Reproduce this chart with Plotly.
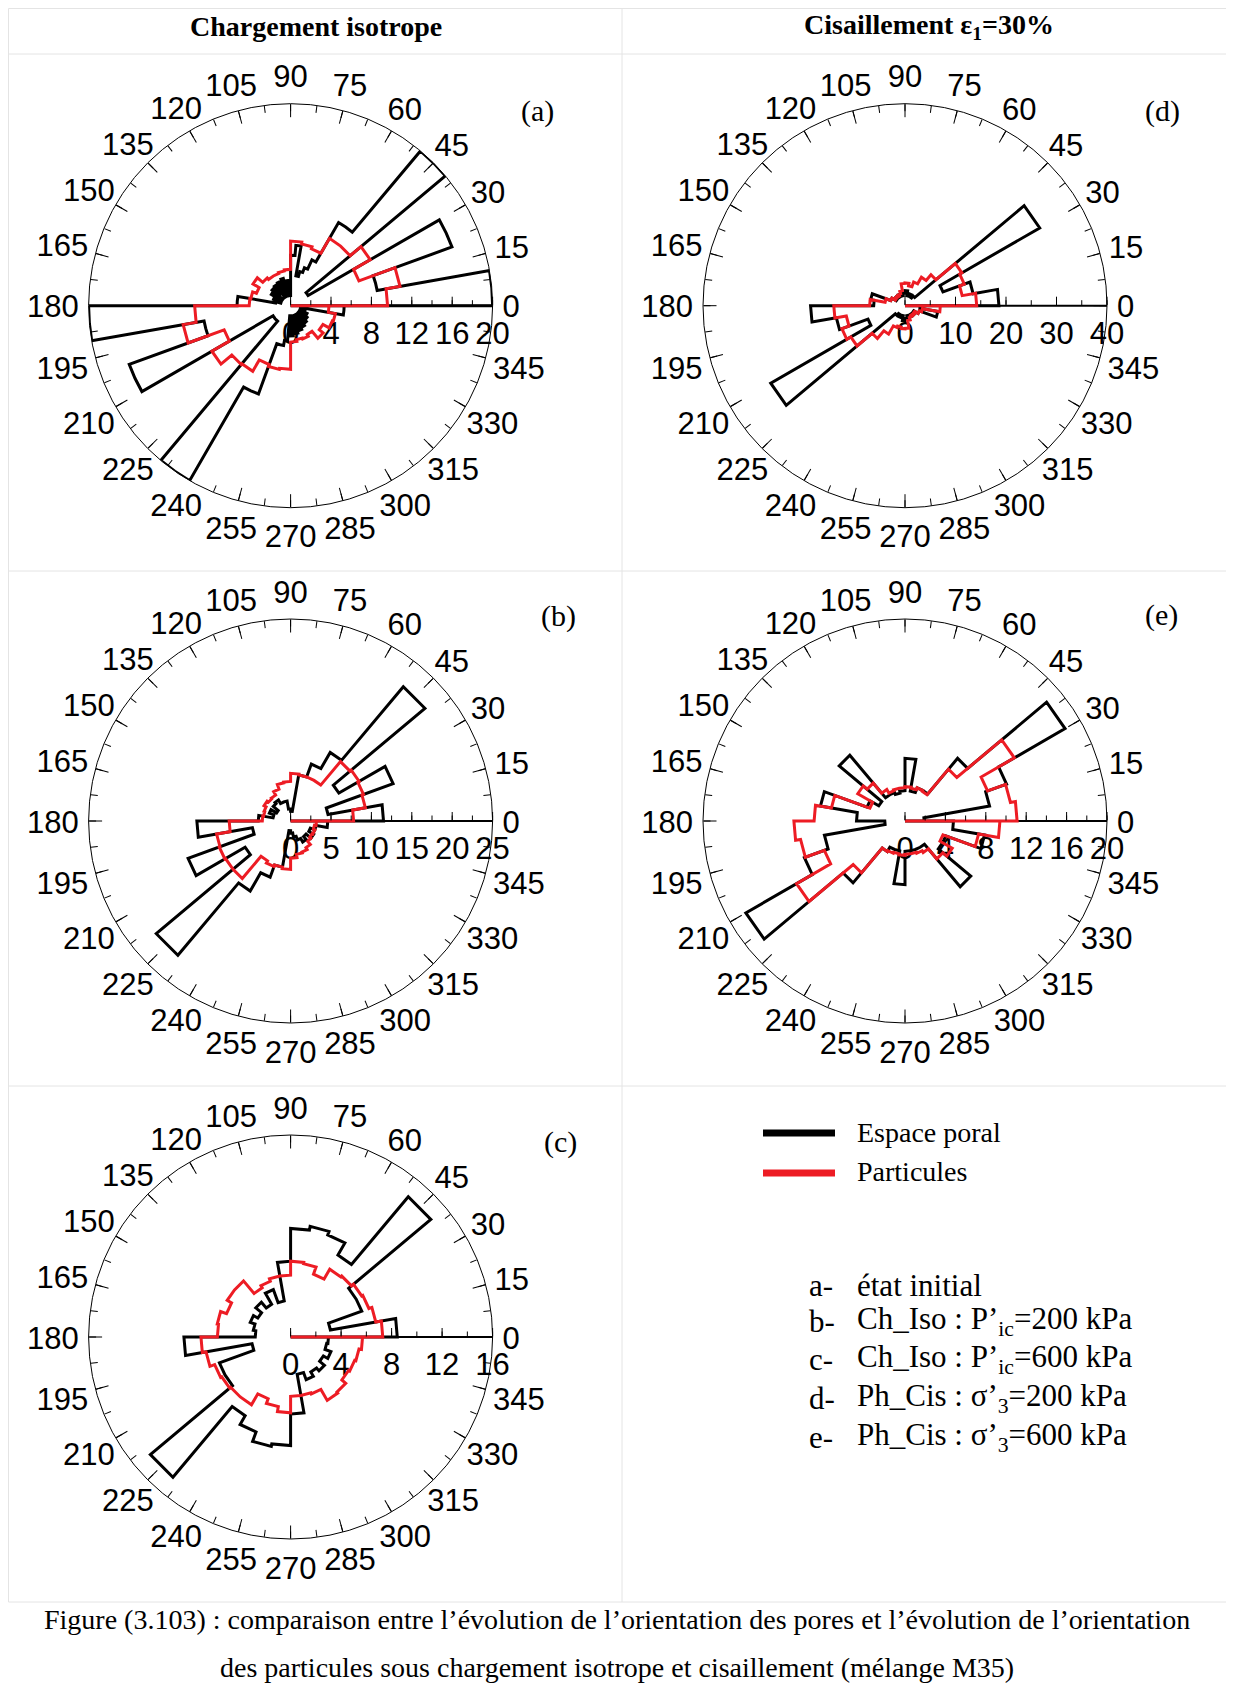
import math
import plotly.graph_objects as go

# page is offset by the browser's 8px body margin; work in page pixels and shift
PAGE_W, PAGE_H = 1234, 1689
OFF = 8
W, H = PAGE_W - OFF, PAGE_H - OFF
R_PX = 202      # radius of the rose circle
R_LAB = 262     # radius of the (invisible) polar frame that carries the angle labels

# ---- rose-diagram values (bins start at 0 deg, counter-clockwise) ----
# 5-degree bins
a_black = [20, 20, 8.7, 8.7, 17, 17, 2, 2, 20, 20, 9.5, 9.5, 5, 4, 3.5, 3, 6, 5,
           1, 2.5, 1, 2.8, 1.2, 2.6, 1, 2.5, 1.5, 2.4, 1, 2.2, 1.2, 1.8, 1, 1.5, 5.3, 5.3,
           20, 20, 8.7, 8.7, 17, 17, 2, 2, 2, 2, 20, 20, 9.3, 9.3, 4, 4, 3.5, 1,
           3, 1, 2.8, 1.2, 2.6, 1, 2.4, 1.2, 2.2, 1, 2, 1.2, 1.8, 1, 1.5, 1, 5.3, 5.3]
# 10-degree bins
a_red = [9.6, 11, 7.2, 9.1, 7.7, 7.7, 6, 6.2, 6.4, 3.6, 3.5, 3.4, 3.4, 3.6, 4.3, 3.6, 4, 4.1,
         9.5, 10.8, 7, 9, 7.6, 7.5, 6.2, 6.4, 6.3, 3.6, 3.4, 3.5, 3.3, 4.2, 3.7, 4.4, 4.5, 3.8]

b_black = [11.5, 4.7, 13.5, 6.9, 21.7, 9.8, 7.5, 5.8, 1.2, 1.5, 2.5, 2.5, 3, 2.8, 2, 2.8, 2.2, 4,
           11.6, 4.8, 13.5, 6.5, 21.7, 10, 7.4, 5.8, 1.2, 1.5, 2, 2.5, 3, 2.5, 3.3, 2.6, 3.2, 4.6]
b_red = [7.8, 9.4, 9.6, 9.8, 9.6, 5.8, 5.8, 5.8, 5.9, 4.9, 4.8, 4.2, 3.7, 3.6, 3.8, 3.5, 3.4, 3.5,
         7.6, 9.3, 9.4, 9.3, 9.3, 5.7, 6, 5.8, 6, 4.6, 4.2, 4.1, 3.8, 3.3, 3.1, 3.2, 3, 3.2]

c_black = [8.45, 3.2, 6, 6, 14.5, 7.5, 8.6, 8.9, 8.6, 6, 2.9, 4, 3, 3.6, 3, 3.4, 3, 2.8,
           8.45, 3.1, 6, 6, 14.5, 7.2, 8, 8.8, 8.6, 6.1, 3, 3.6, 3.2, 3.5, 3, 3.4, 2.9, 3]
c_red = [7.3, 6.85, 6.6, 6.5, 6.3, 6.2, 5.3, 5.9, 6, 4.9, 4.9, 4.7, 4.5, 5.8, 5.8, 5.4, 5.9, 5.8,
         7.1, 6.8, 6.4, 6.3, 6.2, 6.2, 5.2, 5.6, 6, 4.7, 4.7, 4.8, 5.8, 5.7, 5.3, 5.4, 5.5, 5.7]

d_black = [18.6, 13.7, 8, 30.8, 2.5, 2, 2.5, 2, 3, 2.5, 2, 2.5, 2, 2.5, 2, 3, 6.9, 6.2,
           18.7, 13.8, 7.8, 30.7, 2.5, 2, 2.5, 2, 3, 2.5, 2, 2.5, 2, 2.5, 2, 3, 6.6, 3]
d_red = [14.2, 11.5, 12.5, 13, 8, 6.5, 5, 4, 4.5, 4.4, 3, 2.5, 2.2, 2.5, 2.2, 3, 4, 7,
         14.1, 11.8, 13.3, 12.4, 8.5, 6.5, 4.6, 4.3, 4.6, 4.5, 3, 2.5, 2.2, 2.5, 2.2, 3, 3.5, 7]

e_black = [1.9, 8.5, 10.7, 18.3, 8.1, 3.5, 3.5, 3, 6.2, 3, 2.8, 3, 3, 8.5, 3, 4, 8.5, 4.8,
           2, 8.1, 10.6, 18.2, 8, 3.5, 3, 3, 6.3, 3, 3, 3, 3, 8.5, 4.3, 4.3, 8, 4.8]
e_red = [11.1, 10.6, 8.7, 12.5, 6.7, 3.4, 3.5, 3.3, 3.4, 3.3, 3.3, 3.2, 3.6, 4.9, 5.4, 3.7, 7.4, 9,
         11, 10.5, 8.5, 12.4, 6.7, 3.5, 3.4, 3.3, 3.4, 3.3, 3.3, 3.4, 3.6, 4.9, 5.4, 4, 7.4, 9.4]

radial_max = {"a": 20, "b": 25, "c": 16, "d": 40, "e": 20}
radial_major = {"a": 4, "b": 5, "c": 4, "d": 10, "e": 4}
radial_minor = {"a": 2, "b": 2.5, "c": 2, "d": 5, "e": 2}
angle_major = list(range(0, 360, 15))
angle_minor = [i * 7.5 for i in range(48)]

header_left = "Chargement isotrope"
header_right = "Cisaillement ε<sub>1</sub>=30%"
legend_names = ["Espace poral", "Particules"]
cases = [("a-", "état initial"),
         ("b-", "Ch_Iso : P’<sub>ic</sub>=200 kPa"),
         ("c-", "Ch_Iso : P’<sub>ic</sub>=600 kPa"),
         ("d-", "Ph_Cis : σ’<sub>3</sub>=200 kPa"),
         ("e-", "Ph_Cis : σ’<sub>3</sub>=600 kPa")]
caption = ["Figure (3.103) : comparaison entre l’évolution de l’orientation des pores et l’évolution de l’orientation",
           "des particules sous chargement isotrope et cisaillement (mélange M35)"]

BLACK = "#000000"
RED = "#ED1C24"
SANS = "Liberation Sans, Arial, sans-serif"
SERIF = "Liberation Serif, Times New Roman, serif"
TICK_SIZE = 31

# panel placement (page pixel centres)
layout_pos = {"a": (290.6, 305.7), "d": (905.0, 305.7),
              "b": (290.6, 821.0), "e": (905.0, 821.0),
              "c": (290.6, 1337.0)}
label_pos = {"a": (537, 111), "d": (1162, 111), "b": (558, 616),
             "e": (1161, 615), "c": (560, 1142)}
series = {"a": (a_black, a_red), "b": (b_black, b_red), "c": (c_black, c_red),
          "d": (d_black, d_red), "e": (e_black, e_red)}


def fx(x):
    return (x - OFF) / W


def fy(y):
    return 1 - (y - OFF) / H


def domain(cx, cy, rad):
    return dict(x=[fx(cx - rad), fx(cx + rad)], y=[fy(cy + rad), fy(cy - rad)])


def outline(vals):
    w = 360.0 / len(vals)
    th = [0.0]
    rr = [0.0]
    for k, v in enumerate(vals):
        th += [k * w, (k + 1) * w]
        rr += [v, v]
    th.append(360.0)
    rr.append(0.0)
    return rr, th


def fmt(v):
    return str(int(v)) if float(v).is_integer() else str(v)


def label_polar(text, ang):
    """polar position (in label-frame units) of an angular tick label centre"""
    half_w = len(text) * 0.556 * TICK_SIZE / 2
    c = math.cos(math.radians(ang))
    s = math.sin(math.radians(ang))
    dist = 226 + (half_w - 14) * abs(c) ** 4 + 4 * abs(s) ** 4
    x = dist * c
    y = dist * s - 4.0          # small downward nudge for the glyph baseline
    return math.hypot(x, y) / R_LAB, math.degrees(math.atan2(y, x)) % 360


fig = go.Figure()
layout = {}
order = ["a", "d", "b", "e", "c"]

for i, key in enumerate(order):
    cx, cy = layout_pos[key]
    name = "polar" if i == 0 else f"polar{i + 1}"
    over_name = f"polar{i + 6}"
    lab_name = f"polar{i + 11}"

    rmax = radial_max[key]
    mj = radial_major[key]
    mn = radial_minor[key]
    rmaj = [k * mj for k in range(int(round(rmax / mj)) + 1)]
    rmin = [round(k * mn, 3) for k in range(int(round(rmax / mn)) + 1)]

    layout[name] = dict(
        domain=domain(cx, cy, R_PX),
        bgcolor="rgba(0,0,0,0)",
        angularaxis=dict(direction="counterclockwise", rotation=0,
                         tickmode="array", tickvals=angle_major,
                         ticks="inside", ticklen=13, tickwidth=1, tickcolor=BLACK,
                         showticklabels=False,
                         showline=True, linecolor=BLACK, linewidth=1,
                         showgrid=False, layer="below traces"),
        radialaxis=dict(range=[0, rmax], angle=0, tickangle=0,
                        tickmode="array", tickvals=rmaj,
                        ticktext=[fmt(v) for v in rmaj],
                        ticks="inside", ticklen=8, tickwidth=1, tickcolor=BLACK,
                        showline=True, linecolor=BLACK, linewidth=2,
                        showgrid=False, layer="below traces",
                        tickfont=dict(family=SANS, size=TICK_SIZE, color=BLACK)),
    )
    layout[over_name] = dict(
        domain=domain(cx, cy, R_PX),
        bgcolor="rgba(0,0,0,0)",
        angularaxis=dict(direction="counterclockwise", rotation=0,
                         tickmode="array", tickvals=angle_minor,
                         ticks="inside", ticklen=7, tickwidth=1, tickcolor=BLACK,
                         showticklabels=False, showline=False, showgrid=False,
                         layer="below traces"),
        radialaxis=dict(range=[0, rmax], angle=0,
                        tickmode="array", tickvals=rmin,
                        ticks="inside", ticklen=5, tickwidth=1, tickcolor=BLACK,
                        showticklabels=False, showline=False, showgrid=False,
                        layer="below traces"),
    )
    layout[lab_name] = dict(
        domain=domain(cx, cy, R_LAB),
        bgcolor="rgba(0,0,0,0)",
        angularaxis=dict(direction="counterclockwise", rotation=0, visible=False),
        radialaxis=dict(range=[0, 1], visible=False),
    )

    blk, red = series[key]
    rb, tb = outline(blk)
    rr_, tr = outline(red)
    fig.add_trace(go.Scatterpolar(r=rb, theta=tb, mode="lines", subplot=name,
                                  line=dict(color=BLACK, width=3),
                                  name=legend_names[0], showlegend=False))
    fig.add_trace(go.Scatterpolar(r=rr_, theta=tr, mode="lines", subplot=name,
                                  line=dict(color=RED, width=3),
                                  name=legend_names[1], showlegend=False))
    fig.add_trace(go.Scatterpolar(r=[], theta=[], mode="lines", subplot=over_name,
                                  showlegend=False))
    # angular tick labels placed through the (larger) label frame's polar scale
    lab_text = [str(t) for t in angle_major]
    pos = [label_polar(t, a) for t, a in zip(lab_text, angle_major)]
    fig.add_trace(go.Scatterpolar(r=[p[0] for p in pos], theta=[p[1] for p in pos],
                                  mode="text", text=lab_text,
                                  textposition="middle center",
                                  textfont=dict(family=SANS, size=TICK_SIZE, color=BLACK),
                                  cliponaxis=False, subplot=lab_name,
                                  showlegend=False, hoverinfo="skip"))

annotations = []


def px_ann(x, y, text, size, family=SERIF, xanchor="center", bold=False):
    if bold:
        text = f"<b>{text}</b>"
    annotations.append(dict(x=fx(x), y=fy(y), xref="paper", yref="paper",
                            text=text, showarrow=False, xanchor=xanchor,
                            yanchor="middle",
                            font=dict(family=family, size=size, color=BLACK)))


px_ann(316, 26, header_left, 28, bold=True)
px_ann(929, 26, header_right, 28, bold=True)
for key in order:
    x, y = label_pos[key]
    px_ann(x, y, f"({key})", 30)

# legend
px_ann(855, 1132, legend_names[0], 28, xanchor="left")
px_ann(855, 1171, legend_names[1], 28, xanchor="left")
case_y = [1285, 1321, 1359, 1398, 1437]
for (lab, txt), yy in zip(cases, case_y):
    px_ann(807, yy, lab, 31, xanchor="left")
    px_ann(855, yy, txt, 31, xanchor="left")

px_ann(617, 1619, caption[0], 28)
px_ann(617, 1667, caption[1], 28)

GRID = "#e4e4e4"
shapes = []


def hline(y, x0, x1, color=GRID, width=1):
    shapes.append(dict(type="line", xref="paper", yref="paper",
                       x0=fx(x0), x1=fx(x1), y0=fy(y), y1=fy(y),
                       line=dict(color=color, width=width)))


def vline(x, y0, y1, color=GRID, width=1):
    shapes.append(dict(type="line", xref="paper", yref="paper",
                       x0=fx(x), x1=fx(x), y0=fy(y0), y1=fy(y1),
                       line=dict(color=color, width=width)))


for yy in [8.5, 54, 571, 1086, 1602]:
    hline(yy, 8.5, 1234)
vline(8.5, 8.5, 1602)
vline(622, 8.5, 1602)

# legend line samples
hline(1133, 763, 835, color=BLACK, width=7)
hline(1173, 763, 835, color=RED, width=7)

fig.update_layout(width=W, height=H, margin=dict(l=0, r=0, t=0, b=0),
                  paper_bgcolor="white", plot_bgcolor="white",
                  showlegend=False, annotations=annotations, shapes=shapes,
                  **layout)

fig.write_html("out.html")
